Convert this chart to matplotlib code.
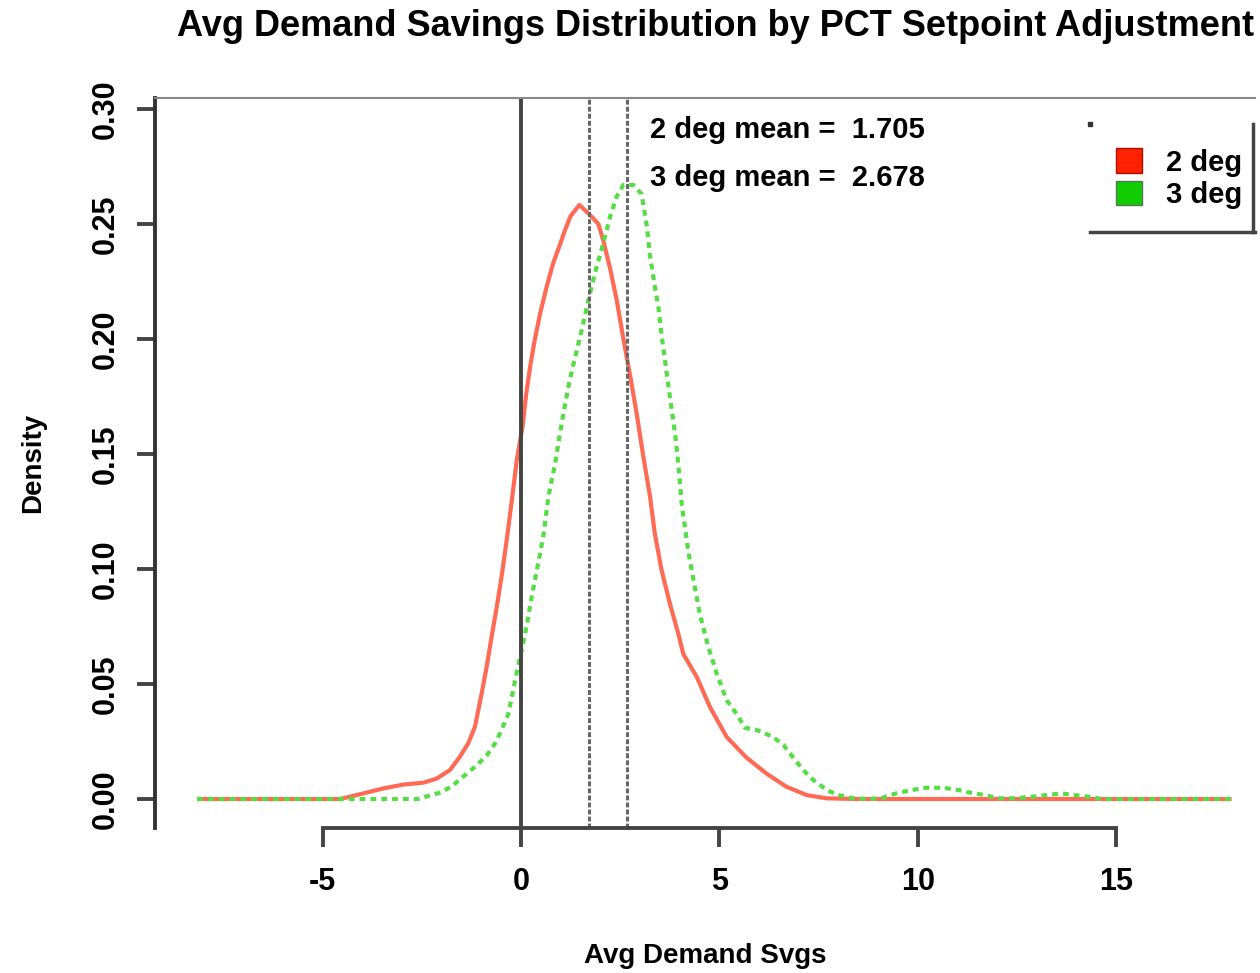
import matplotlib.pyplot as plt
from matplotlib.patches import Patch

plt.rcParams['font.family'] = ['Liberation Sans', 'DejaVu Sans']
plt.rcParams['font.weight'] = 'bold'

# density curves
red_x = [-8.16, -4.57, -4.31, -3.89, -3.47, -2.96, -2.46, -2.12, -1.79, -1.54,
         -1.33, -1.16, -0.99, -0.86, -0.74, -0.61, -0.49, -0.36, -0.23, -0.11,
         0.04, 0.13, 0.23, 0.35, 0.48, 0.65, 0.81, 0.98, 1.10, 1.25,
         1.47, 1.74, 1.95, 2.07, 2.24, 2.41, 2.58, 2.75, 2.91, 3.08,
         3.25, 3.37, 3.54, 3.75, 3.96, 4.09, 4.43, 4.76, 5.18, 5.68,
         6.19, 6.69, 7.20, 7.70, 8.50, 17.9]
red_y = [0.0, 0.0, 0.001, 0.0028, 0.0046, 0.0063, 0.0071, 0.0089, 0.0126, 0.0184,
         0.0242, 0.0314, 0.046, 0.058, 0.0706, 0.0836, 0.0967, 0.1126, 0.130, 0.147,
         0.162, 0.176, 0.188, 0.200, 0.211, 0.223, 0.233, 0.241, 0.247, 0.2535,
         0.2583, 0.2539, 0.250, 0.243, 0.231, 0.217, 0.200, 0.184, 0.168, 0.149,
         0.1315, 0.1155, 0.0996, 0.085, 0.072, 0.063, 0.053, 0.040, 0.027, 0.018,
         0.011, 0.0053, 0.0017, 0.0003, 0.0, 0.0]

green_x = [-8.16, -2.60, -2.04, -1.75, -1.46, -1.16, -0.86, -0.66, -0.49, -0.32,
           -0.20, -0.11, 0.02, 0.14, 0.27, 0.40, 0.56, 0.69, 0.86, 1.02,
           1.19, 1.32, 1.53, 1.70, 1.86, 2.07, 2.24, 2.41, 2.58, 2.83,
           3.04, 3.17, 3.25, 3.37, 3.46, 3.54, 3.67, 3.79, 3.88, 3.96,
           4.05, 4.22, 4.38, 4.51, 4.72, 4.93, 5.18, 5.43, 5.64, 5.94,
           6.35, 6.61, 6.86, 7.11, 7.36, 7.70, 7.99, 8.37, 8.75, 9.10,
           9.46, 9.84, 10.22, 10.64, 11.02, 11.31, 11.69, 12.02, 12.40, 12.82,
           13.24, 13.62, 13.95, 14.33, 14.63, 17.9]
green_y = [0.0, 0.0, 0.0028, 0.0054, 0.0097, 0.014, 0.019, 0.024, 0.030, 0.037,
           0.047, 0.055, 0.065, 0.075, 0.088, 0.0996, 0.114, 0.1315, 0.146, 0.163,
           0.179, 0.189, 0.204, 0.217, 0.2285, 0.2415, 0.253, 0.262, 0.267, 0.267,
           0.263, 0.249, 0.236, 0.223, 0.214, 0.202, 0.185, 0.170, 0.159, 0.146,
           0.128, 0.107, 0.092, 0.080, 0.066, 0.0546, 0.043, 0.037, 0.031, 0.030,
           0.027, 0.0235, 0.018, 0.0126, 0.0083, 0.0039, 0.0017, 0.0003, 0.0, 0.0005,
           0.0025, 0.0039, 0.0049, 0.0049, 0.0039, 0.0028, 0.0017, 0.0003, 0.0003, 0.0009,
           0.0017, 0.0024, 0.0017, 0.0009, 0.0, 0.0]

means = [1.705, 2.678]
labels = ['2 deg', '3 deg']
x_ticks = [-5, 0, 5, 10, 15]
y_ticks = [0.00, 0.05, 0.10, 0.15, 0.20, 0.25, 0.30]

fig = plt.figure(figsize=(12.6, 9.73), dpi=100)
ax = fig.add_axes([155 / 1260, 1 - 828 / 973, 1100 / 1260, 730 / 973])

ax.plot(red_x, red_y, color='#FF6A55', lw=3.0, solid_capstyle='butt')
ax.plot(green_x, green_y, color='#55DD44', lw=3.0, linestyle=(0, (1.4, 1.2)))

ax.axvline(0, color='#444444', lw=2.8)
for m in means:
    ax.axvline(m, color='#666666', lw=2.2, linestyle=(0, (1.6, 0.7)))

ax.text(3.25, 0.291, f'2 deg mean =  {means[0]}', fontsize=21, va='center')
ax.text(3.25, 0.270, f'3 deg mean =  {means[1]}', fontsize=21, va='center')

ax.set_xlim(-9.22, 18.49)
ax.set_ylim(-0.0126, 0.3048)

ax.spines['right'].set_visible(False)
ax.spines['top'].set_color('#888888')
ax.spines['top'].set_linewidth(1.5)
ax.spines['left'].set_color('#333333')
ax.spines['left'].set_linewidth(2.8)
ax.spines['bottom'].set_color('#444444')
ax.spines['bottom'].set_linewidth(2.8)
ax.spines['bottom'].set_bounds(-5, 15)

ax.set_xticks(x_ticks)
ax.set_xticklabels([str(t) for t in x_ticks])
ax.set_yticks(y_ticks)
ax.set_yticklabels([f'{t:.2f}' for t in y_ticks], rotation=90, va='center')
ax.tick_params(axis='x', length=14, width=2.8, color='#444444', pad=14, labelsize=22)
ax.tick_params(axis='y', length=13, width=2.8, color='#444444', pad=12, labelsize=22)

ax.set_xlabel('Avg Demand Svgs', fontsize=20, fontweight='bold', labelpad=33)
ax.set_ylabel('Density', fontsize=20, fontweight='bold', labelpad=32)

fig.text(716 / 1260, 1 - 27 / 973, 'Avg Demand Savings Distribution by PCT Setpoint Adjustment',
         ha='center', va='center', fontsize=26, fontweight='bold')

# legend, with only the bottom and right edges of its box visible
handles = [Patch(facecolor='#FF2200', edgecolor='#AA1100', label=labels[0]),
           Patch(facecolor='#11CC00', edgecolor='#557755', label=labels[1])]
ax.legend(handles=handles, loc='upper right', bbox_to_anchor=(1.012, 0.967),
          frameon=False, fontsize=21, handlelength=0.9, handleheight=0.9,
          handletextpad=0.8, labelspacing=0.15)
ax.plot([0.85, 1.0], [0.816, 0.816], transform=ax.transAxes, color='#444444',
        lw=2.5, clip_on=False)
ax.plot([0.998, 0.998], [0.816, 0.965], transform=ax.transAxes, color='#444444',
        lw=2.5, clip_on=False)
ax.plot([0.85], [0.965], 's', transform=ax.transAxes, color='#333333', ms=3)

fig.savefig('out.png', dpi=100)
